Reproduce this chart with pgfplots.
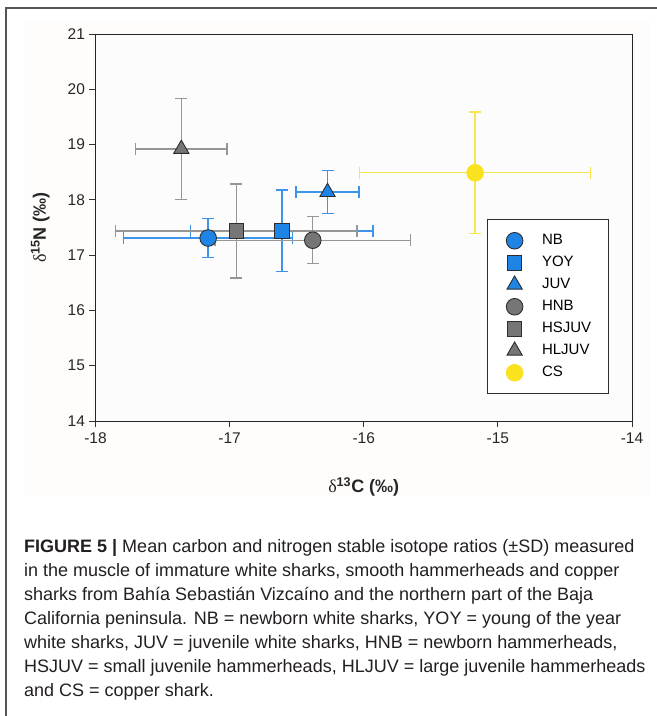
\documentclass[border=0pt]{standalone}
\usepackage{pgfplots}
\pgfplotsset{compat=1.18}
\usepackage{fontspec}
\setmainfont{Liberation Sans}
\newfontfamily\deltafont{Liberation Serif}

\definecolor{nbblue}{RGB}{30,132,230}
\definecolor{bluebar}{RGB}{62,148,235}
\definecolor{hgray}{RGB}{118,118,118}
\definecolor{graybar}{RGB}{150,150,150}
\definecolor{csyellow}{RGB}{250,226,30}
\definecolor{yellowbar}{RGB}{247,230,80}
\definecolor{edge}{RGB}{45,45,45}
\definecolor{framegray}{RGB}{85,85,85}
\definecolor{panelbg}{RGB}{254,253,252}
\definecolor{captext}{RGB}{35,31,32}

\pgfplotsset{
  ebar/.style={forget plot, only marks, mark=none,
    error bars/.cd, x dir=both, x explicit, y dir=both, y explicit,
    error bar style={line width=1.4pt, draw=#1},
    error mark options={rotate=90, mark size=6pt, line width=1.4pt, draw=#1}},
  pt/.style 2 args={only marks, mark=#1, mark size=8.3pt,
    mark options={fill=#2, draw=edge, line width=0.9pt}},
}

\begin{document}
\begin{tikzpicture}[x=1pt,y=1pt]
\useasboundingbox (0,0) rectangle (657,-716);
\fill[panelbg] (25,-20) rectangle (650,-495);
\draw[framegray, line width=1.5pt] (6,-716) -- (6,-8) -- (657,-8);

\begin{axis}[
  at={(95.5pt,-34pt)}, anchor=north west,
  scale only axis, width=536.5pt, height=387pt,
  xmin=-18, xmax=-14, ymin=14, ymax=21,
  xtick={-18,-17,-16,-15,-14}, ytick={14,15,16,17,18,19,20,21},
  xtick pos=bottom, ytick pos=left,
  tick align=outside, major tick length=6pt,
  tick style={black!80, line width=0.8pt},
  axis line style={black!85, line width=1pt},
  axis background/.style={fill=white!99!black},
  /pgf/number format/assume math mode=true,
  ticklabel style={font=\fontsize{15.5}{17}\selectfont, text=black!85},
  xticklabel style={yshift=-2pt},
  yticklabel style={xshift=-1pt},
  xlabel={{\deltafont δ}\textsuperscript{\textbf{13}}\textbf{C (‰)}},
  ylabel={{\deltafont δ}\textsuperscript{\textbf{15}}\textbf{N (‰)}},
  label style={font=\fontsize{18}{20}\selectfont, text=black!85},
  xlabel style={at={(axis description cs:0.5,-0.17)}, anchor=center},
  ylabel style={at={(axis description cs:-0.103,0.5)}, anchor=center},
  legend cell align=left,
  legend image code/.code={\path (0pt,0pt) (21pt,0pt);
    \draw[#1] plot coordinates {(12pt,0pt)};},
  legend style={at={(axis description cs:0.7292,0.5212)}, anchor=north west,
    draw=edge, line width=0.9pt, fill=white,
    font=\fontsize{15}{17}\selectfont,
    inner xsep=15pt, inner ysep=12pt, row sep=4pt,
    nodes={inner sep=2pt, text height=11pt, text depth=3pt},
    /tikz/every odd column/.append style={column sep=16pt}},
]
% error bars: x, y with +- (SD of x, SD of y)
\addplot[ebar=bluebar] coordinates {(-17.16,17.31) +- (0.63,0.355)};
\addplot[ebar=bluebar] coordinates {(-16.61,17.44) +- (0.68,0.74)};
\addplot[ebar=bluebar] coordinates {(-16.27,18.14) +- (0.235,0.39)};
\addplot[ebar=graybar] coordinates {(-16.38,17.27) +- (0.73,0.425)};
\addplot[ebar=graybar] coordinates {(-16.95,17.44) +- (0.90,0.85)};
\addplot[ebar=graybar] coordinates {(-17.36,18.92) +- (0.34,0.91)};
\addplot[ebar=yellowbar] coordinates {(-15.17,18.49) +- (0.86,1.10)};
% means
\addplot[pt={*}{nbblue}] coordinates {(-17.16,17.31)};
\addlegendentry{NB}
\addplot[pt={square*}{nbblue}, mark size=7.3pt] coordinates {(-16.61,17.44)};
\addlegendentry{YOY}
\addplot[pt={triangle*}{nbblue}, mark size=8.8pt] coordinates {(-16.27,18.14)};
\addlegendentry{JUV}
\addplot[pt={*}{hgray}] coordinates {(-16.38,17.27)};
\addlegendentry{HNB}
\addplot[pt={square*}{hgray}, mark size=7.3pt] coordinates {(-16.95,17.44)};
\addlegendentry{HSJUV}
\addplot[pt={triangle*}{hgray}, mark size=8.8pt] coordinates {(-17.36,18.92)};
\addlegendentry{HLJUV}
\addplot[only marks, mark=*, mark size=8.3pt,
  mark options={fill=csyellow, draw=csyellow, line width=0.9pt}] coordinates {(-15.17,18.49)};
\addlegendentry{CS}
\end{axis}

\begin{scope}[every node/.style={anchor=base west, inner sep=0pt, text=captext,
    font=\fontsize{18}{24}\selectfont}]
\node at (24,-552) {\textbf{FIGURE 5 |} Mean carbon and nitrogen stable isotope ratios (±SD) measured};
\node at (24,-576) {in the muscle of immature white sharks, smooth hammerheads and copper};
\node at (24,-600) {sharks from Bahía Sebastián Vizcaíno and the northern part of the Baja};
\node at (24,-624) {California peninsula. NB = newborn white sharks, YOY = young of the year};
\node at (24,-648) {white sharks, JUV = juvenile white sharks, HNB = newborn hammerheads,};
\node at (24,-672) {HSJUV = small juvenile hammerheads, HLJUV = large juvenile hammerheads};
\node at (24,-696) {and CS = copper shark.};
\end{scope}
\end{tikzpicture}
\end{document}
